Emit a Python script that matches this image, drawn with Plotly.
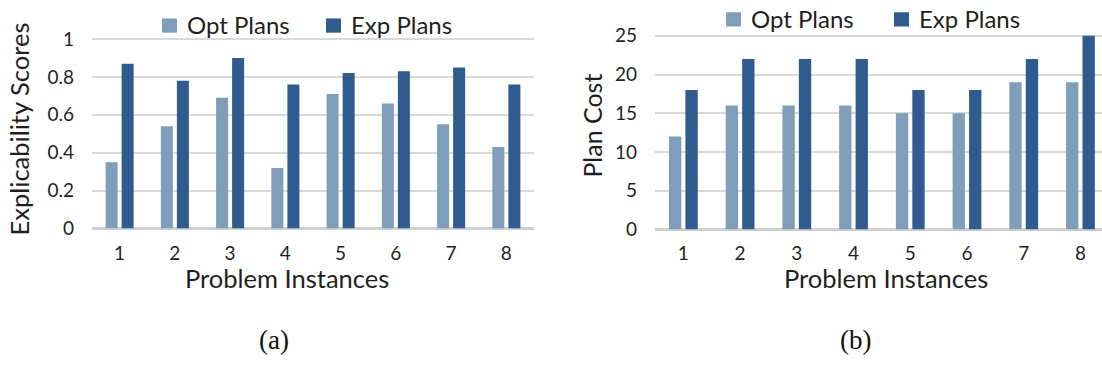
import plotly.graph_objects as go

W, H = 1102, 369

instances = ["1", "2", "3", "4", "5", "6", "7", "8"]

# (a) explicability scores
opt_scores = [0.35, 0.54, 0.69, 0.32, 0.71, 0.66, 0.55, 0.43]
exp_scores = [0.87, 0.78, 0.90, 0.76, 0.82, 0.83, 0.85, 0.76]

# (b) plan cost
opt_cost = [12, 16, 16, 16, 15, 15, 19, 19]
exp_cost = [18, 22, 22, 22, 18, 18, 22, 25]

series_names = ["Opt Plans", "Exp Plans"]
series_colors = ["#7f9eb9", "#305b8f"]

FONT = "Lato"
TEXT = "#1f1f1f"
GRID = "#d9d9d9"


def fx(px):
    return px / W


def fy(py):
    return 1 - py / H


fig = go.Figure()

panels = [("x", "y", [opt_scores, exp_scores]),
          ("x2", "y2", [opt_cost, exp_cost])]

for xa, ya, series in panels:
    for name, color, vals in zip(series_names, series_colors, series):
        fig.add_trace(go.Bar(x=instances, y=vals, name=name, marker_color=color,
                             marker_line_width=0, xaxis=xa, yaxis=ya, showlegend=False))

common_x = dict(type="category", showgrid=False, showline=False, zeroline=False,
                ticks="", ticklabelstandoff=11,
                tickfont=dict(family=FONT, size=19, color=TEXT))
common_y = dict(showgrid=True, gridcolor=GRID, gridwidth=1.6, showline=False,
                zeroline=True, zerolinecolor="#d0d0d0", zerolinewidth=2.5,
                ticks="", ticklabelstandoff=17,
                tickfont=dict(family=FONT, size=19, color=TEXT))

fig.update_layout(
    width=W, height=H,
    margin=dict(l=0, r=0, t=0, b=0),
    paper_bgcolor="white", plot_bgcolor="white",
    barmode="group", bargap=0.42, bargroupgap=0.25,
    font=dict(family=FONT, color=TEXT),
    showlegend=False,
    xaxis=dict(common_x, domain=[fx(92), fx(534)], anchor="y", range=[-0.5, 7.5]),
    yaxis=dict(common_y, domain=[fy(232.5), fy(28.7)], anchor="x",
               range=[0, 1.02], tickvals=[0, 0.2, 0.4, 0.6, 0.8, 1],
               ticktext=["0", "0.2", "0.4", "0.6", "0.8", "1"]),
    xaxis2=dict(common_x, domain=[fx(655), 1], anchor="y2", range=[-0.5, 7.38]),
    yaxis2=dict(common_y, domain=[fy(233.5), fy(25.2)], anchor="x2",
                range=[0, 25.5], tickvals=[0, 5, 10, 15, 20, 25]),
)

# legend swatches and labels above each panel: (swatch left edges, centre line)
legend_rows = [([162, 326], 18.5), ([726, 894], 12)]
for lefts, cy in legend_rows:
    for left, name, color in zip(lefts, series_names, series_colors):
        fig.add_shape(type="rect", xref="paper", yref="paper",
                      x0=fx(left), x1=fx(left + 15), y0=fy(cy + 7.5), y1=fy(cy - 7.5),
                      fillcolor=color, line_width=0)
        fig.add_annotation(text=name, x=fx(left + 23), y=fy(cy - 1), xref="paper",
                           yref="paper", xanchor="left", yanchor="middle",
                           showarrow=False,
                           font=dict(family=FONT, size=24, color=TEXT))

annotations = [
    dict(text="Problem Instances", x=fx(287), y=fy(284.5), size=25.5),
    dict(text="Problem Instances", x=fx(886), y=fy(284.5), size=25.5),
    dict(text="Explicability Scores", x=fx(19), y=fy(128), size=25.5, angle=-90),
    dict(text="Plan Cost", x=fx(592), y=fy(124), size=25, angle=-90),
]
for a in annotations:
    fig.add_annotation(text=a["text"], x=a["x"], y=a["y"], xref="paper", yref="paper",
                       xanchor="center", yanchor="middle", showarrow=False,
                       textangle=a.get("angle", 0),
                       font=dict(family=FONT, size=a["size"], color=TEXT))

for label, cx in [("(a)", 274), ("(b)", 855)]:
    fig.add_annotation(text=label, x=fx(cx), y=fy(350), xref="paper", yref="paper",
                       xanchor="center", yanchor="middle", showarrow=False,
                       font=dict(family="Liberation Serif", size=27, color="#111111"))

# keep the page flush with the figure (no default body margin or scrollbars)
page_css = ("document.documentElement.style.margin='0';"
            "document.body.style.margin='0';"
            "document.documentElement.style.overflow='hidden';")

fig.write_html("out.html", post_script=page_css)
